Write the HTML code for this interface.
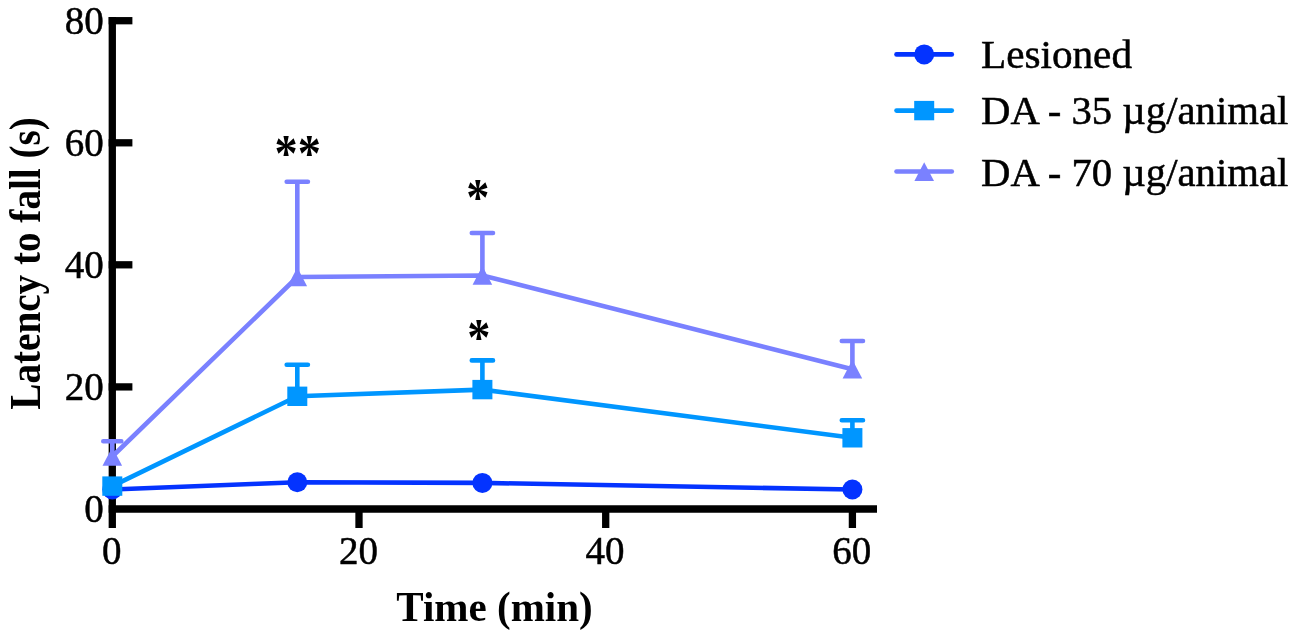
<!DOCTYPE html>
<html lang="en"><head><meta charset="utf-8"><title>Latency to fall</title>
<style>html,body{margin:0;padding:0;background:#fff}svg{display:block;filter:blur(.45px)}text{font-family:"Liberation Serif",serif;fill:#000}.r{stroke:#000;stroke-width:.5px}</style>
</head><body>
<svg width="1297" height="636" viewBox="0 0 1297 636">
<rect width="1297" height="636" fill="#fff"/>
<g stroke="#000" stroke-width="7.3" fill="none">
<line x1="112.3" y1="17.1" x2="112.3" y2="528"/>
<line x1="108.65" y1="509.0" x2="877" y2="509.0"/>
<line x1="108.65" y1="386.9" x2="132.4" y2="386.9"/>
<line x1="108.65" y1="264.8" x2="132.4" y2="264.8"/>
<line x1="108.65" y1="142.8" x2="132.4" y2="142.8"/>
<line x1="108.65" y1="20.7" x2="132.4" y2="20.7"/>
<line x1="359.0" y1="509.0" x2="359.0" y2="528"/>
<line x1="605.7" y1="509.0" x2="605.7" y2="528"/>
<line x1="852.4" y1="509.0" x2="852.4" y2="528"/>
</g>
<polyline points="112.3,489.5 297.3,482.2 482.4,482.9 852.4,489.5" fill="none" stroke="#0433FF" stroke-width="4.6" stroke-linejoin="round"/>
<circle cx="112.3" cy="489.5" r="10" fill="#0433FF"/>
<circle cx="297.3" cy="482.2" r="10" fill="#0433FF"/>
<circle cx="482.4" cy="482.9" r="10" fill="#0433FF"/>
<circle cx="852.4" cy="489.5" r="10" fill="#0433FF"/>
<polyline points="112.3,486.1 297.3,396.3 482.4,389.6 852.4,437.8" fill="none" stroke="#0096FF" stroke-width="4.6" stroke-linejoin="round"/>
<path d="M297.3 396.3V364.7M286.7 364.7H307.9" stroke="#0096FF" stroke-width="4.6" stroke-linecap="round" fill="none"/>
<path d="M482.4 389.6V360.4M471.8 360.4H493.0" stroke="#0096FF" stroke-width="4.6" stroke-linecap="round" fill="none"/>
<path d="M852.4 437.8V420.2M841.8 420.2H863.0" stroke="#0096FF" stroke-width="4.6" stroke-linecap="round" fill="none"/>
<rect x="102.3" y="476.4" width="20" height="19.4" fill="#0096FF"/>
<rect x="287.3" y="386.6" width="20" height="19.4" fill="#0096FF"/>
<rect x="472.4" y="379.9" width="20" height="19.4" fill="#0096FF"/>
<rect x="842.4" y="428.1" width="20" height="19.4" fill="#0096FF"/>
<polyline points="112.3,456.5 297.3,277.0 482.4,275.5 852.4,369.2" fill="none" stroke="#7A81FF" stroke-width="4.6" stroke-linejoin="round"/>
<path d="M112.3 456.5V441.2M103.3 441.2H121.3" stroke="#7A81FF" stroke-width="4.6" stroke-linecap="round" fill="none"/>
<path d="M297.3 277.0V181.8M286.7 181.8H307.9" stroke="#7A81FF" stroke-width="4.6" stroke-linecap="round" fill="none"/>
<path d="M482.4 275.5V233.0M471.8 233.0H493.0" stroke="#7A81FF" stroke-width="4.6" stroke-linecap="round" fill="none"/>
<path d="M852.4 369.2V341.0M841.8 341.0H863.0" stroke="#7A81FF" stroke-width="4.6" stroke-linecap="round" fill="none"/>
<path d="M112.3 447.1L122.1 465.7H102.5Z" fill="#7A81FF"/>
<path d="M297.3 267.6L307.1 286.2H287.5Z" fill="#7A81FF"/>
<path d="M482.4 266.1L492.2 284.7H472.6Z" fill="#7A81FF"/>
<path d="M852.4 359.8L862.2 378.4H842.6Z" fill="#7A81FF"/>
<g class="r" font-size="39" text-anchor="end">
<text x="103.7" y="522.2">0</text>
<text x="103.7" y="400.1">20</text>
<text x="103.7" y="278.0">40</text>
<text x="103.7" y="156.0">60</text>
<text x="103.7" y="33.9">80</text>
</g>
<g class="r" font-size="39" text-anchor="middle">
<text x="111.7" y="564.3">0</text>
<text x="358.4" y="564.3">20</text>
<text x="605.1" y="564.3">40</text>
<text x="851.8" y="564.3">60</text>
</g>
<text x="494.5" y="620.8" font-size="42.5" font-weight="bold" text-anchor="middle" textLength="196.5" lengthAdjust="spacingAndGlyphs">Time (min)</text>
<text transform="translate(39.8 263.4) rotate(-90)" font-size="43.5" font-weight="bold" text-anchor="middle" textLength="292.5" lengthAdjust="spacingAndGlyphs">Latency to fall (s)</text>
<g font-size="45" font-weight="bold" text-anchor="middle">
<text transform="translate(297.7 146.8) scale(1.03 1.15)" x="0" y="21">**</text>
<text transform="translate(477.8 191.0) scale(1.03 1.15)" x="0" y="21">*</text>
<text transform="translate(478.9 330.7) scale(1.03 1.15)" x="0" y="21">*</text>
</g>
<line x1="896.5" y1="54.4" x2="951.8" y2="54.4" stroke="#0433FF" stroke-width="4.6" stroke-linecap="round"/>
<circle cx="924.2" cy="54.4" r="10" fill="#0433FF"/>
<text class="r" x="981" y="67.8" font-size="39" textLength="151" lengthAdjust="spacingAndGlyphs">Lesioned</text>
<line x1="896.5" y1="110.6" x2="951.8" y2="110.6" stroke="#0096FF" stroke-width="4.6" stroke-linecap="round"/>
<rect x="914.2" y="100.9" width="20" height="19.4" fill="#0096FF"/>
<text class="r" x="981" y="124.2" font-size="39" textLength="307.3" lengthAdjust="spacingAndGlyphs">DA - 35 µg/animal</text>
<line x1="896.5" y1="171.5" x2="951.8" y2="171.5" stroke="#7A81FF" stroke-width="4.6" stroke-linecap="round"/>
<path d="M924.2 162.3L934.0 180.9H914.4Z" fill="#7A81FF"/>
<text class="r" x="981" y="186.3" font-size="39" textLength="307.3" lengthAdjust="spacingAndGlyphs">DA - 70 µg/animal</text>
</svg>
</body></html>
